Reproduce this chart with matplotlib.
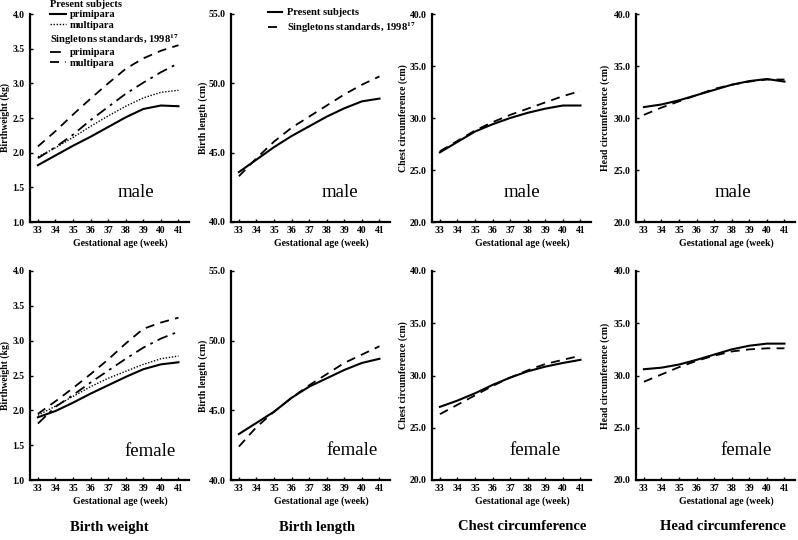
import matplotlib
matplotlib.use("Agg")
import matplotlib.pyplot as plt
from matplotlib.lines import Line2D

plt.rcParams["font.family"] = ["Liberation Serif", "DejaVu Serif"]
plt.rcParams["mathtext.fontset"] = "stix"

weeks = [33, 34, 35, 36, 37, 38, 39, 40, 41]

# ---- Birth weight (kg) ----
bw_m_present_primi = [1.82, 1.96, 2.10, 2.23, 2.37, 2.51, 2.63, 2.68, 2.67]
bw_m_present_multi = [1.94, 2.07, 2.22, 2.38, 2.53, 2.67, 2.79, 2.87, 2.90]
bw_m_single_primi = [1.92, 2.08, 2.26, 2.47, 2.66, 2.85, 3.01, 3.16, 3.29]
bw_m_single_multi = [2.09, 2.31, 2.55, 2.78, 3.00, 3.21, 3.36, 3.47, 3.55]
bw_f_present_primi = [1.90, 1.99, 2.11, 2.24, 2.36, 2.48, 2.59, 2.66, 2.69]
bw_f_present_multi = [1.93, 2.06, 2.20, 2.34, 2.46, 2.56, 2.66, 2.74, 2.78]
bw_f_single_primi = [1.81, 2.05, 2.22, 2.40, 2.57, 2.74, 2.90, 3.03, 3.13]
bw_f_single_multi = [1.95, 2.13, 2.32, 2.52, 2.73, 2.96, 3.17, 3.26, 3.33]

# ---- Birth length (cm) ----
bl_m_present = [43.6, 44.5, 45.4, 46.2, 46.9, 47.6, 48.2, 48.7, 48.9]
bl_m_single = [43.3, 44.6, 45.8, 46.8, 47.6, 48.4, 49.2, 49.9, 50.5]
bl_f_present = [43.3, 44.1, 44.9, 45.9, 46.7, 47.3, 47.9, 48.4, 48.7]
bl_f_single = [42.4, 43.8, 44.9, 45.9, 46.8, 47.6, 48.4, 49.0, 49.6]

# ---- Chest circumference (cm) ----
cc_m_present = [26.7, 27.7, 28.7, 29.4, 30.0, 30.5, 30.9, 31.2, 31.2]
cc_m_single = [26.8, 27.8, 28.8, 29.6, 30.3, 30.9, 31.5, 32.1, 32.6]
cc_f_present = [27.0, 27.6, 28.3, 29.1, 29.8, 30.4, 30.85, 31.2, 31.5]
cc_f_single = [26.3, 27.2, 28.1, 29.0, 29.8, 30.5, 31.1, 31.5, 31.9]

# ---- Head circumference (cm) ----
hc_m_present = [31.05, 31.3, 31.7, 32.2, 32.7, 33.2, 33.55, 33.75, 33.5]
hc_m_single = [30.3, 31.0, 31.6, 32.2, 32.8, 33.2, 33.5, 33.7, 33.7]
hc_f_present = [30.6, 30.75, 31.05, 31.5, 32.0, 32.5, 32.85, 33.05, 33.05]
hc_f_single = [29.4, 30.1, 30.8, 31.4, 31.9, 32.3, 32.5, 32.6, 32.6]

measure_titles = ["Birth weight", "Birth length", "Chest circumference", "Head circumference"]
ylabels = ["Birthweight (kg)", "Birth length (cm)", "Chest circumference (cm)", "Head circumference (cm)"]
ylims = [(1.0, 4.0), (40.0, 55.0), (20.0, 40.0), (20.0, 40.0)]
yticks = [[1.0, 1.5, 2.0, 2.5, 3.0, 3.5, 4.0], [40.0, 45.0, 50.0, 55.0],
          [20.0, 25.0, 30.0, 35.0, 40.0], [20.0, 25.0, 30.0, 35.0, 40.0]]
sex_labels = ["male", "female"]
xlabel_text = "Gestational age (week)"

# styles
st_solid = dict(color="black", lw=1.5, ls="-")
st_dot = dict(color="black", lw=1.0, ls=(0, (1, 1.2)))
st_dashdot = dict(color="black", lw=1.3, ls=(0, (6, 3, 1.5, 3)))
st_dash = dict(color="black", lw=1.3, ls=(0, (5, 3.5)))

W, H = 798, 540
fig = plt.figure(figsize=(W / 100, H / 100), dpi=100)
col_left = [30, 231, 432, 636]
axw = 159
rows_px = [(14, 222), (271, 480)]
ylab_x = [-0.126, -0.145, -0.151, -0.164]
sex_pos = [[(0.667, 0.14), (0.686, 0.144), (0.566, 0.144), (0.61, 0.144)],
           [(0.755, 0.134), (0.761, 0.143), (0.648, 0.139), (0.692, 0.139)]]

series = {
    (0, 0): [(bw_m_present_primi, st_solid), (bw_m_present_multi, st_dot),
             (bw_m_single_primi, st_dashdot), (bw_m_single_multi, st_dash)],
    (1, 0): [(bw_f_present_primi, st_solid), (bw_f_present_multi, st_dot),
             (bw_f_single_primi, st_dashdot), (bw_f_single_multi, st_dash)],
    (0, 1): [(bl_m_present, st_solid), (bl_m_single, st_dash)],
    (1, 1): [(bl_f_present, st_solid), (bl_f_single, st_dash)],
    (0, 2): [(cc_m_present, st_solid), (cc_m_single, st_dash)],
    (1, 2): [(cc_f_present, st_solid), (cc_f_single, st_dash)],
    (0, 3): [(hc_m_present, st_solid), (hc_m_single, st_dash)],
    (1, 3): [(hc_f_present, st_solid), (hc_f_single, st_dash)],
}

axes = {}
for r in range(2):
    top, bot = rows_px[r]
    for c in range(4):
        ax = fig.add_axes([col_left[c] / W, 1 - bot / H, axw / W, (bot - top) / H])
        axes[(r, c)] = ax
        for vals, st in series[(r, c)]:
            ax.plot(weeks, vals, **st)
        ax.set_xlim(32.55, 41.6)
        ax.set_ylim(*ylims[c])
        ax.set_xticks(weeks)
        ax.set_yticks(yticks[c])
        ax.set_yticklabels([f"{v:.1f}" for v in yticks[c]])
        for s in ["top", "right"]:
            ax.spines[s].set_visible(False)
        for s in ["left", "bottom"]:
            ax.spines[s].set_linewidth(1.6)
        ax.tick_params(axis="both", direction="in", length=2.5, width=1.0,
                       labelsize=7, pad=4)
        ax.tick_params(axis="x", pad=3)
        for lab in ax.get_xticklabels() + ax.get_yticklabels():
            lab.set_fontweight("bold")
        ax.set_ylabel(ylabels[c], fontsize=7, fontweight="bold")
        ax.yaxis.set_label_coords(ylab_x[c], 0.5)
        ax.set_xlabel(xlabel_text, fontsize=7, fontweight="bold")
        ax.xaxis.set_label_coords(0.57, -0.08)
        sx, sy = sex_pos[r][c]
        ax.text(sx, sy, sex_labels[r], transform=ax.transAxes, ha="center",
                va="center", fontsize=13.5)
        ax.patch.set_alpha(0)

# bottom titles
title_cx = [109, 317, 522, 723]
for c in range(4):
    fig.text(title_cx[c] / W, 1 - 527 / H, measure_titles[c], ha="center",
             va="center", fontsize=10.5, fontweight="bold")

# legends (birth weight panel)
ax0 = axes[(0, 0)]
leg_font = dict(family="Liberation Serif", weight="bold", size=7.6)
h_pp = Line2D([], [], **st_solid)
h_pm = Line2D([], [], **st_dot)
h_sp = Line2D([], [], **st_dashdot)
h_sm = Line2D([], [], **st_dash)
leg1 = ax0.legend([h_pp, h_pm], ["primipara", "multipara"],
                  title="Present subjects", title_fontproperties=leg_font,
                  prop=leg_font, alignment="left", frameon=False,
                  loc="upper left", bbox_to_anchor=(50 / W, 1 - 0 / H),
                  bbox_transform=fig.transFigure, borderpad=0, borderaxespad=0,
                  handlelength=1.5, handletextpad=0.35, labelspacing=0.1)
ax0.add_artist(leg1)
leg2 = ax0.legend([h_sp, h_sm], ["primipara", "multipara"],
                  title=r"Singletons standards, 1998$^{\mathbf{17}}$",
                  title_fontproperties=leg_font, prop=leg_font,
                  alignment="left", frameon=False, loc="upper left",
                  bbox_to_anchor=(50 / W, 1 - 32 / H),
                  bbox_transform=fig.transFigure, borderpad=0, borderaxespad=0,
                  handlelength=1.5, handletextpad=0.35, labelspacing=0.1)

# legend (birth length panel)
ax1 = axes[(0, 1)]
h_p = Line2D([], [], **st_solid)
h_s = Line2D([], [], **st_dash)
ax1.legend([h_p, h_s], ["Present subjects", r"Singletons standards, 1998$^{\mathbf{17}}$"],
           prop=leg_font, frameon=False, loc="upper left",
           bbox_to_anchor=(268 / W, 1 - 8 / H), bbox_transform=fig.transFigure,
           borderpad=0, borderaxespad=0, handlelength=1.35, handletextpad=0.45,
           labelspacing=0.22)

fig.savefig("out.png", dpi=100)
